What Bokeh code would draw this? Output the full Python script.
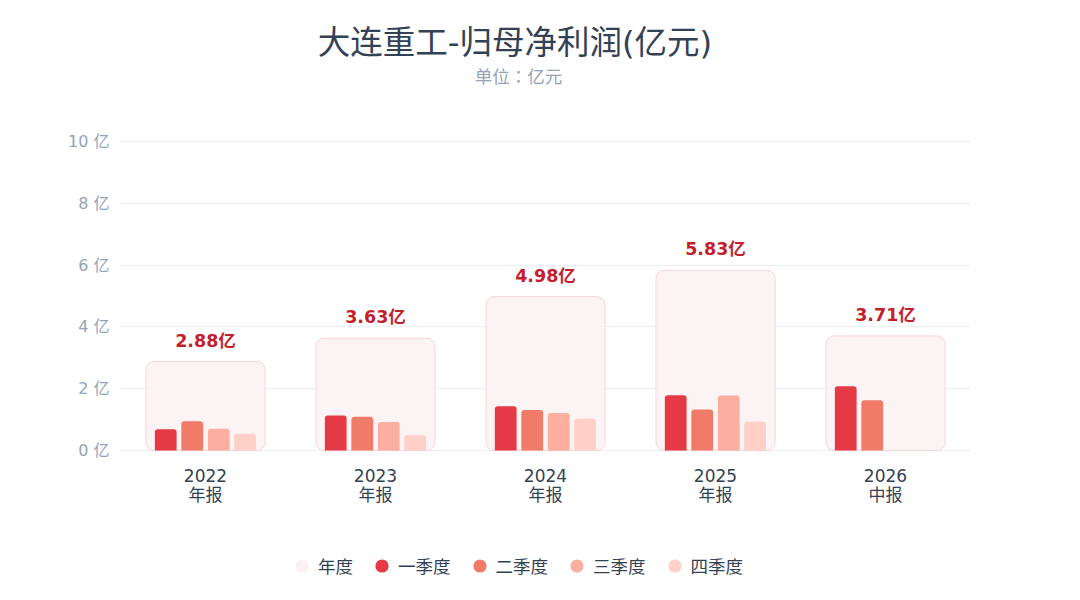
from bokeh.plotting import figure
from bokeh.models import (ColumnDataSource, FactorRange, Legend, LegendItem,
                          FixedTicker, Label)
from bokeh.transform import dodge
from bokeh.core.properties import value
from bokeh.embed import file_html
from bokeh.resources import INLINE

periods = ["2022", "2023", "2024", "2025", "2026"]
period_types = ["年报", "年报", "年报", "年报", "中报"]
annual = [2.88, 3.63, 4.98, 5.83, 3.71]
q1 = [0.69, 1.13, 1.43, 1.79, 2.08]
q2 = [0.95, 1.09, 1.31, 1.33, 1.63]
q3 = [0.70, 0.92, 1.21, 1.78, None]
q4 = [0.54, 0.49, 1.03, 0.93, None]
quarter_names = ["一季度", "二季度", "三季度", "四季度"]
y_ticks = [0, 2, 4, 6, 8, 10]

FONT = "DejaVu Sans, Noto Sans CJK SC"
CJK = "Noto Sans CJK SC, DejaVu Sans"
CJK_TC = "Noto Sans CJK TC, Noto Sans CJK SC"
quarter_colors = ["#e63946", "#f07b68", "#fcaea0", "#fed0c8"]
annual_fill = "#fcf3f4"
annual_line = "#f7d6db"
legend_annual_color = "#fcf0f2"

W, H = 1064, 584
LEFT, RIGHT = 120, 94
PX_PER_UNIT = 30.9
ZERO_Y = 450  # pixel row of the zero line
y_start = -(H - ZERO_Y) / PX_PER_UNIT
y_end = ZERO_Y / PX_PER_UNIT

p = figure(
    width=W, height=H,
    x_range=FactorRange(*periods), y_range=(y_start, y_end),
    output_backend="svg", toolbar_location=None,
    min_border_left=LEFT, min_border_right=RIGHT,
    min_border_top=0, min_border_bottom=0,
    background_fill_color="white", border_fill_color="white",
)
p.title = None
p.outline_line_color = None
p.xaxis.visible = False

src = ColumnDataSource(dict(
    period=periods,
    ptype=period_types,
    annual=annual,
    zero=[0] * len(periods),
    label=[f"{v:.2f}亿" for v in annual],
))
p.vbar(x="period", top="annual", bottom=0, width=0.7, source=src,
       fill_color=annual_fill, line_color=annual_line, line_width=1,
       border_radius=8)

offsets = [-0.234, -0.078, 0.078, 0.233]
qsources = []
for vals, off, col in zip([q1, q2, q3, q4], offsets, quarter_colors):
    xs = [per for per, v in zip(periods, vals) if v is not None]
    ys = [v for v in vals if v is not None]
    s = ColumnDataSource(dict(period=xs, top=ys))
    qsources.append(s)
    p.vbar(x=dodge("period", off, range=p.x_range), top="top", bottom=0,
           width=0.128, source=s, fill_color=col, line_color=None,
           border_radius=[3, 3, 0, 0])

p.text(x="period", y="annual", text="label", source=src,
       text_align="center", text_baseline="bottom", y_offset=-11,
       text_font=value(FONT), text_font_size="17.5px", text_font_style="bold",
       text_color="#c41e2c")

# category labels (two lines) under the zero line
p.text(x="period", y="zero", text="period", source=src,
       text_align="center", text_baseline="middle", y_offset=25,
       text_font=value(FONT), text_font_size="17px", text_color="#334155")
p.text(x="period", y="zero", text="ptype", source=src,
       text_align="center", text_baseline="middle", y_offset=43,
       text_font=value(CJK), text_font_size="17px", text_color="#334155")

# y axis
ticker = FixedTicker(ticks=y_ticks)
p.yaxis.ticker = ticker
p.ygrid.ticker = ticker
p.yaxis.major_label_overrides = {t: f"{t} 亿" for t in y_ticks}
p.yaxis.axis_line_color = None
p.yaxis.major_tick_line_color = None
p.yaxis.minor_tick_line_color = None
p.yaxis.major_label_text_color = "#94a3b8"
p.yaxis.major_label_text_font = FONT
p.yaxis.major_label_text_font_size = "16px"
p.yaxis.major_label_standoff = 5

p.xgrid.grid_line_color = None
p.ygrid.grid_line_color = "#eceef3"

# titles (screen units relative to the plot frame)
p.add_layout(Label(x=514.5 - LEFT, y=H - 42, x_units="screen", y_units="screen",
                   text="大连重工-归母净利润(亿元)",
                   text_align="center", text_baseline="middle",
                   text_font=FONT, text_font_size="32.5px", text_color="#334155"))
p.add_layout(Label(x=518 - LEFT, y=H - 75, x_units="screen", y_units="screen",
                   text="单位：亿元",
                   text_align="center", text_baseline="middle",
                   text_font=CJK_TC, text_font_size="17.5px", text_color="#94a3b8"))

# legend: zero-size markers carry the legend swatches (legend draws its own size)
items = []
r = p.scatter(x="period", y="annual", source=src, size=0, marker="circle",
              fill_color=legend_annual_color, line_color=None)
items.append(LegendItem(label="年度", renderers=[r]))
for name, col, s in zip(quarter_names, quarter_colors, qsources):
    r = p.scatter(x="period", y="top", source=s, size=0, marker="circle",
                  fill_color=col, line_color=None)
    items.append(LegendItem(label=name, renderers=[r]))

legend = Legend(items=items, orientation="horizontal", location=(165, 2),
                glyph_width=33, glyph_height=33, label_standoff=0, spacing=12,
                padding=0, margin=0, border_line_color=None,
                background_fill_alpha=0,
                label_text_font=CJK, label_text_font_size="17.5px",
                label_text_color="#334155")
p.add_layout(legend, "center")

open("out.html", "w").write(file_html(p, INLINE))
